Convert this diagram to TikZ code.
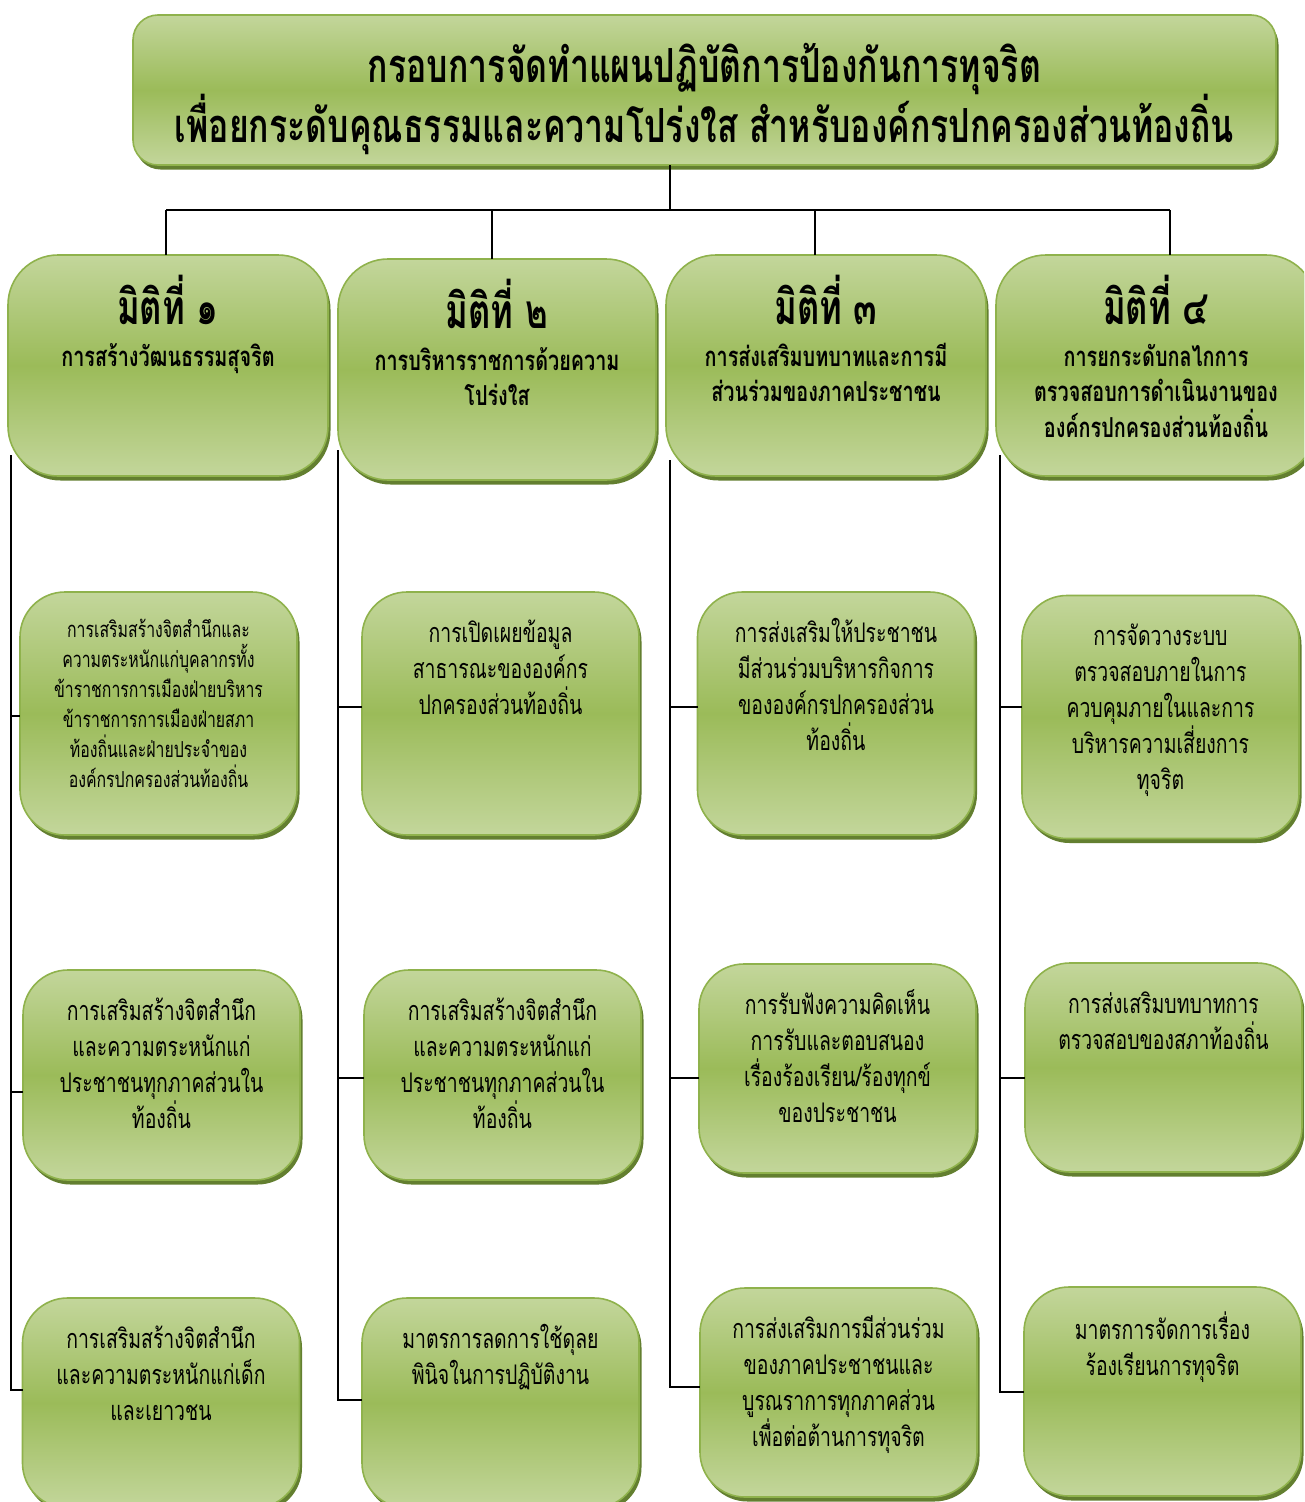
\documentclass[tikz,border=0pt]{standalone}
\usepackage{fontspec}
\newfontfamily\thai[Script=Thai,FakeStretch=0.72]{Loma}
\usetikzlibrary{shadows}
\definecolor{lightg}{HTML}{C3D69B}
\definecolor{darkg}{HTML}{9BBB59}
\definecolor{edgeg}{HTML}{8FB24C}
\definecolor{shadg}{HTML}{637F30}
% box content: width, height, top offset, font size, baselineskip, lines
\newcommand{\bxt}[6]{\begin{minipage}[t][#2][t]{#1}\lineskiplimit=-100pt\centering\thai\fontsize{#4}{#5}\selectfont\vspace*{#3}\strut #6\end{minipage}}
\newcommand{\hdt}[3]{\begin{minipage}[t][221pt][t]{310pt}\lineskiplimit=-100pt\centering\thai\bfseries\vspace*{#1}{\fontsize{48}{50}\selectfont\strut #2\par}\vspace{6pt}{\fontsize{27.5}{35.5}\selectfont #3\par}\end{minipage}}
\begin{document}
\begin{tikzpicture}[x=1pt,y=-1pt,
  gbox/.style={draw=edgeg, line width=1.6pt, top color=lightg, bottom color=lightg, middle color=darkg,
    inner sep=0pt, outer sep=0pt,
    drop shadow={shadow xshift=2.5pt, shadow yshift=-4.5pt, fill=shadg, opacity=1}},
  lvl1/.style={gbox, rounded corners=50pt, minimum width=320pt, minimum height=221pt},
  lvl2/.style={gbox, rounded corners=45pt, minimum width=277pt},
  conn/.style={draw=black, line width=1.8pt}]
\useasboundingbox (0,0) rectangle (1304,1502);
\fill[white] (0,0) rectangle (1304,1502);
\clip (0,0) rectangle (1304,1502);

% title
\node[gbox, rounded corners=25pt, minimum width=1143pt, minimum height=150pt] (title) at (704.5,90)
 {\begin{minipage}[t][150pt][t]{1140pt}\lineskiplimit=-100pt\centering\thai\bfseries\fontsize{47}{60}\selectfont\vspace*{25pt}\strut
 กรอบการจัดทำแผนปฏิบัติการป้องกันการทุจริต\\
 เพื่อยกระดับคุณธรรมและความโปร่งใส สำหรับองค์กรปกครองส่วนท้องถิ่น\end{minipage}};

% level 1
\node[lvl1] (h1) at (168,365.5) {\hdt{20.5pt}{มิติที่ ๑}{การสร้างวัฒนธรรมสุจริต}};
\node[lvl1, minimum width=318pt] (h2) at (497,369.5) {\hdt{20.5pt}{มิติที่ ๒}{การบริหารราชการด้วยความ\\โปร่งใส}};
\node[lvl1] (h3) at (826,365.5) {\hdt{20.5pt}{มิติที่ ๓}{การส่งเสริมบทบาทและการมี\\ส่วนร่วมของภาคประชาชน}};
\node[lvl1] (h4) at (1156,365.5) {\hdt{20.5pt}{มิติที่ ๔}{การยกระดับกลไกการ\\ตรวจสอบการดำเนินงานของ\\องค์กรปกครองส่วนท้องถิ่น}};

% row 1
\node[lvl2, minimum height=243pt] (b1a) at (158.5,713.5) {\bxt{277pt}{243pt}{24pt}{22}{30}{การเสริมสร้างจิตสำนึกและ\\ความตระหนักแก่บุคลากรทั้ง\\ข้าราชการการเมืองฝ่ายบริหาร\\ข้าราชการการเมืองฝ่ายสภา\\ท้องถิ่นและฝ่ายประจำของ\\องค์กรปกครองส่วนท้องถิ่น}};
\node[lvl2, minimum height=243pt] (b2a) at (500.5,713.5) {\bxt{277pt}{243pt}{25pt}{27}{36}{การเปิดเผยข้อมูล\\สาธารณะขององค์กร\\ปกครองส่วนท้องถิ่น}};
\node[lvl2, minimum height=243pt] (b3a) at (836,713.5) {\bxt{277pt}{243pt}{25pt}{27}{36}{การส่งเสริมให้ประชาชน\\มีส่วนร่วมบริหารกิจการ\\ขององค์กรปกครองส่วน\\ท้องถิ่น}};
\node[lvl2, minimum height=243pt] (b4a) at (1160.5,717) {\bxt{277pt}{243pt}{25pt}{27}{36}{การจัดวางระบบ\\ตรวจสอบภายในการ\\ควบคุมภายในและการ\\บริหารความเสี่ยงการ\\ทุจริต}};

% row 2
\node[lvl2, minimum height=210pt] (b1b) at (161.5,1075) {\bxt{277pt}{210pt}{25pt}{27}{36}{การเสริมสร้างจิตสำนึก\\และความตระหนักแก่\\ประชาชนทุกภาคส่วนใน\\ท้องถิ่น}};
\node[lvl2, minimum height=210pt] (b2b) at (502.5,1075) {\bxt{277pt}{210pt}{25pt}{27}{36}{การเสริมสร้างจิตสำนึก\\และความตระหนักแก่\\ประชาชนทุกภาคส่วนใน\\ท้องถิ่น}};
\node[lvl2, minimum height=209pt] (b3b) at (837.5,1068.5) {\bxt{277pt}{209pt}{25pt}{27}{36}{การรับฟังความคิดเห็น\\การรับและตอบสนอง\\เรื่องร้องเรียน/ร้องทุกข์\\ของประชาชน}};
\node[lvl2, minimum height=209pt] (b4b) at (1163.5,1067.5) {\bxt{277pt}{209pt}{25pt}{27}{36}{การส่งเสริมบทบาทการ\\ตรวจสอบของสภาท้องถิ่น}};

% row 3
\node[lvl2, minimum height=210pt] (b1c) at (161,1403) {\bxt{277pt}{210pt}{25pt}{27}{36}{การเสริมสร้างจิตสำนึก\\และความตระหนักแก่เด็ก\\และเยาวชน}};
\node[lvl2, minimum height=210pt] (b2c) at (500.5,1403) {\bxt{277pt}{210pt}{25pt}{27}{36}{มาตรการลดการใช้ดุลย\\พินิจในการปฏิบัติงาน}};
\node[lvl2, minimum height=209pt] (b3c) at (838.5,1392.5) {\bxt{277pt}{209pt}{25pt}{27}{36}{การส่งเสริมการมีส่วนร่วม\\ของภาคประชาชนและ\\บูรณราการทุกภาคส่วน\\เพื่อต่อต้านการทุจริต}};
\node[lvl2, minimum height=209pt] (b4c) at (1162.5,1391.5) {\bxt{277pt}{209pt}{25pt}{27}{36}{มาตรการจัดการเรื่อง\\ร้องเรียนการทุจริต}};

% top connectors
\coordinate (j) at (670,210);
\coordinate (jl) at (166,210);
\coordinate (jr) at (1170,210);
\coordinate (d2) at (492,210);
\coordinate (d3) at (815,210);
\draw[conn] (title.south -| j) -- (j);
\draw[conn] (jl) -- (jr);
\draw[conn] (jl) -- (jl |- h1.north);
\draw[conn] (d2) -- (d2 |- h2.north);
\draw[conn] (d3) -- (d3 |- h3.north);
\draw[conn] (jr) -- (jr |- h4.north);

% column trunks
\coordinate (t1) at (11,455);  \coordinate (c1a) at (11,716);  \coordinate (c1b) at (11,1092);  \coordinate (c1c) at (11,1390);
\coordinate (t2) at (338,450); \coordinate (c2a) at (338,707); \coordinate (c2b) at (338,1078); \coordinate (c2c) at (338,1400);
\coordinate (t3) at (670,460); \coordinate (c3a) at (670,707); \coordinate (c3b) at (670,1078); \coordinate (c3c) at (670,1387);
\coordinate (t4) at (1000,455); \coordinate (c4a) at (1000,707); \coordinate (c4b) at (1000,1078); \coordinate (c4c) at (1000,1392);

\draw[conn] (t1) -- (c1c) -- (c1c -| b1c.west);
\draw[conn] (c1a) -- (c1a -| b1a.west);
\draw[conn] (c1b) -- (c1b -| b1b.west);
\draw[conn] (t2) -- (c2c) -- (c2c -| b2c.west);
\draw[conn] (c2a) -- (c2a -| b2a.west);
\draw[conn] (c2b) -- (c2b -| b2b.west);
\draw[conn] (t3) -- (c3c) -- (c3c -| b3c.west);
\draw[conn] (c3a) -- (c3a -| b3a.west);
\draw[conn] (c3b) -- (c3b -| b3b.west);
\draw[conn] (t4) -- (c4c) -- (c4c -| b4c.west);
\draw[conn] (c4a) -- (c4a -| b4a.west);
\draw[conn] (c4b) -- (c4b -| b4b.west);
\end{tikzpicture}
\end{document}
